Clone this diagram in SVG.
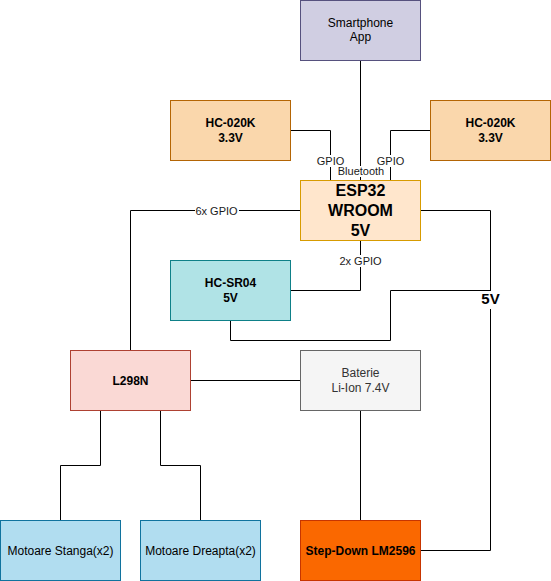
<svg xmlns="http://www.w3.org/2000/svg" width="551" height="581" viewBox="0 0 551 581">
<style>
text{font-family:"Liberation Sans",Arial,sans-serif;font-size:12px;text-anchor:middle;fill:#000}
.b{font-weight:bold}
.big{font-size:16px;font-weight:bold}
.lbl{font-size:11px;fill:#1a1a1a}
.lbg{fill:#fff}
.e{fill:none;stroke:#000;stroke-width:1}
rect.n{stroke-width:1}
</style>
<rect width="551" height="581" fill="#fff"/>
<g id="connectors">
<path class="e" d="M360.5 60.5V180.5"/>
<path class="e" d="M290.5 130.5H330.5V180.5"/>
<path class="e" d="M430.5 130.5H390.5V180.5"/>
<path class="e" d="M300.5 210.5H130.5V350.5"/>
<path class="e" d="M360.5 240.5V290.5H290.5"/>
<path class="e" d="M420.5 210.5H490.5V550.5H420.5"/>
<path class="e" d="M230.5 320.5V340.5H390.5V290.5H490.5"/>
<path class="e" d="M190.5 380.5H300.5"/>
<path class="e" d="M100.5 410.5V465.5H60.5V520.5"/>
<path class="e" d="M160.5 410.5V465.5H200.5V520.5"/>
<path class="e" d="M360.5 410.5V520.5"/>
<rect class="lbg" x="315" y="155" width="31" height="12"/>
<text class="lbl" x="330.5" y="164.5">GPIO</text>
<rect class="lbg" x="375" y="155" width="31" height="12"/>
<text class="lbl" x="390.5" y="164.5">GPIO</text>
<rect class="lbg" x="337" y="166" width="48" height="11"/>
<text class="lbl" x="361" y="174.5">Bluetooth</text>
<rect class="lbg" x="195" y="205" width="44" height="12"/>
<text class="lbl" x="216.5" y="214.5">6x GPIO</text>
<rect class="lbg" x="339" y="255" width="44" height="12"/>
<text class="lbl" x="360.5" y="264.5">2x GPIO</text>
<rect class="lbg" x="478" y="291" width="25" height="18"/>
<text class="b" x="490.5" y="303.5" style="font-size:15px">5V</text>
</g>
<g id="smartphone">
<rect class="n" x="300.5" y="0.5" width="120" height="60" fill="#d0cee2" stroke="#56517e"/>
<text x="360.5" y="26.5">Smartphone</text>
<text x="360.5" y="41">App</text>
</g>
<g id="hc020k-left">
<rect class="n" x="170.5" y="100.5" width="120" height="60" fill="#fad7ac" stroke="#b46504"/>
<text class="b" x="230.5" y="127">HC-020K</text>
<text class="b" x="230.5" y="141.5">3.3V</text>
</g>
<g id="hc020k-right">
<rect class="n" x="430.5" y="100.5" width="120" height="60" fill="#fad7ac" stroke="#b46504"/>
<text class="b" x="490.5" y="127">HC-020K</text>
<text class="b" x="490.5" y="141.5">3.3V</text>
</g>
<g id="esp32">
<rect class="n" x="300.5" y="180.5" width="120" height="60" fill="#ffe6cc" stroke="#d79b00"/>
<text class="big" x="360.5" y="195.5">ESP32</text>
<text class="big" x="360.5" y="215.5">WROOM</text>
<text class="big" x="360.5" y="235.5">5V</text>
</g>
<g id="hcsr04">
<rect class="n" x="170.5" y="260.5" width="120" height="60" fill="#b0e3e6" stroke="#0e8088"/>
<text class="b" x="230.5" y="287">HC-SR04</text>
<text class="b" x="230.5" y="301.5">5V</text>
</g>
<g id="l298n">
<rect class="n" x="70.5" y="350.5" width="120" height="60" fill="#fad9d5" stroke="#ae4132"/>
<text class="b" x="130.5" y="384.5">L298N</text>
</g>
<g id="baterie">
<rect class="n" x="300.5" y="350.5" width="120" height="60" fill="#f5f5f5" stroke="#666666"/>
<text x="360.5" y="377" fill="#333333" style="fill:#333333">Baterie</text>
<text x="360.5" y="391.5" style="fill:#333333">Li-Ion 7.4V</text>
</g>
<g id="motoare-stanga">
<rect class="n" x="0.5" y="520.5" width="120" height="60" fill="#b1ddf0" stroke="#10739e"/>
<text x="60.5" y="554.5">Motoare Stanga(x2)</text>
</g>
<g id="motoare-dreapta">
<rect class="n" x="140.5" y="520.5" width="120" height="60" fill="#b1ddf0" stroke="#10739e"/>
<text x="200.5" y="554.5">Motoare Dreapta(x2)</text>
</g>
<g id="stepdown">
<rect class="n" x="300.5" y="520.5" width="120" height="60" fill="#fa6800" stroke="#c73500"/>
<text class="b" x="360.5" y="554.5">Step-Down LM2596</text>
</g>
</svg>
